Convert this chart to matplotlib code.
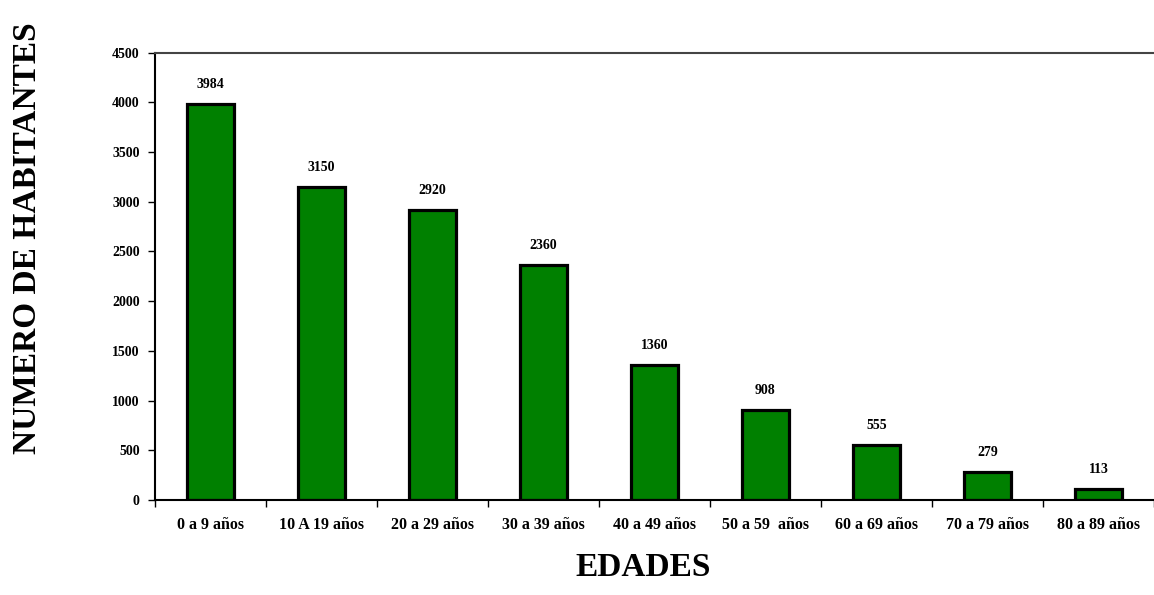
import numpy as np
import matplotlib.pyplot as plt

edades = ['0 a 9 años', '10 A 19 años', '20 a 29 años', '30 a 39 años',
          '40 a 49 años', '50 a 59  años', '60 a 69 años', '70 a 79 años',
          '80 a 89 años']
habitantes = [3984, 3150, 2920, 2360, 1360, 908, 555, 279, 113]
yticks = [0, 500, 1000, 1500, 2000, 2500, 3000, 3500, 4000, 4500]

plt.rcParams['font.family'] = ['Liberation Serif', 'DejaVu Serif']
plt.rcParams['font.weight'] = 'bold'

fig = plt.figure(figsize=(11.54, 5.95), dpi=100)
ax = fig.add_axes([0.1343, 0.1597, 0.8657, 0.7517])

x = np.arange(len(edades))
bars = ax.bar(x, habitantes, width=0.42, color='#008000',
              edgecolor='black', linewidth=2.3)

# etiquetas de valor encima de cada barra
for xi, v in zip(x, habitantes):
    ax.annotate(str(v), (xi, v), xytext=(0, 14), textcoords='offset points',
                ha='center', va='center', fontsize=10, fontweight='bold')

ax.set_xlim(-0.5, len(edades) - 0.5)
ax.set_ylim(0, 4500)
ax.set_yticks(yticks)
ax.set_yticklabels([str(t) for t in yticks], fontsize=10, fontweight='bold')

ax.set_xticks(np.arange(len(edades) + 1) - 0.5)
ax.set_xticklabels([])
ax.set_xticks(x, minor=True)
ax.set_xticklabels(edades, minor=True, fontsize=11.5, fontweight='bold')
ax.tick_params(axis='x', which='minor', length=0, pad=12)
ax.tick_params(axis='x', which='major', length=5, width=1, direction='out')
ax.tick_params(axis='y', length=5, width=1, direction='out', pad=6)

ax.spines['right'].set_visible(False)
ax.spines['top'].set_color('#444444')
ax.spines['top'].set_linewidth(1.5)
ax.spines['left'].set_linewidth(1.5)
ax.spines['bottom'].set_linewidth(1.5)

fig.text(0.557, 0.02, 'EDADES', ha='center', va='bottom',
         fontsize=24, fontweight='bold')
fig.text(0.024, 0.60, 'NUMERO DE HABITANTES', ha='center', va='center',
         rotation=90, fontsize=24, fontweight='bold')

fig.savefig('out.png', dpi=100)
